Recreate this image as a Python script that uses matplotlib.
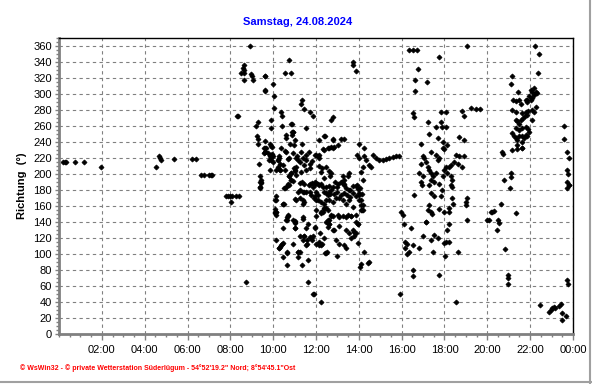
import numpy as np
import matplotlib.pyplot as plt
from matplotlib.lines import Line2D
from matplotlib.ticker import MultipleLocator

# Wind direction readings (hour of day, degrees)
night_h = [0.2, 0.3, 0.35, 0.75, 1.15, 1.95, 4.55, 4.65, 4.7, 4.75, 5.35, 6.2, 6.4,
           6.65, 6.75, 7.0, 7.1, 7.15, 7.8, 7.9, 8.0, 8.05, 8.1, 8.28, 8.4, 8.75]
night_d = [215, 215, 215, 215, 215, 209, 209, 222, 220, 218, 219, 219, 219,
           199, 199, 199, 199, 199, 172, 172, 172, 165, 172, 173, 172, 65]

morning_h = [8.91, 8.62, 8.6, 8.65, 8.48, 8.62, 8.63, 8.95, 9.0, 9.05, 9.61, 10.73, 10.55, 10.83,
             10.0, 9.61, 10.03, 11.34, 11.31, 10.03, 11.46, 11.7, 11.85, 8.3, 8.36, 10.38, 10.42,
             9.29, 9.21, 9.88, 9.88, 10.89, 10.41, 11.54, 12.7, 12.78, 10.89, 10.58, 10.58, 9.24,
             9.29, 12.41, 11.04, 10.8, 10.97, 9.61, 11.34, 9.85, 9.96, 12.78, 10.35, 10.53, 9.57,
             9.63, 9.57, 12.32, 12.6, 12.78, 11.66, 9.96, 9.91, 9.34, 10.27, 10.22, 10.3, 9.8, 9.85,
             10.68, 11.12, 11.15, 11.93, 12.08, 12.16, 11.7, 11.8, 11.46, 10.97, 11.03, 10.84, 10.76,
             10.84, 11.07, 11.31, 11.51, 11.74, 12.16, 12.27, 12.24, 12.47, 12.63, 12.7, 12.67,
             9.41, 9.41, 9.4, 11.35, 11.46, 11.65, 11.8, 11.93, 12.08, 12.39, 12.24, 12.47, 10.68, 10.5,
             9.6, 9.6, 10.84, 10.92, 10.89, 10.92, 12.39, 12.78, 13.17, 13.33, 12.16, 9.65, 9.6, 9.75,
             9.91, 10.58, 10.76, 10.92, 11.07, 11.31, 11.54, 12.0, 12.16, 12.39, 12.55, 12.7, 12.86,
             13.01, 9.83, 9.91, 9.98, 10.22, 10.3, 10.14, 10.76, 10.84, 11.0, 11.07, 11.23, 11.38,
             11.54, 9.37, 9.4, 9.44, 10.45, 10.53, 10.3, 10.22, 10.27, 9.29, 9.6, 9.6, 9.91, 9.83, 9.98]
morning_d = [360, 336, 333, 330, 326, 326, 318, 325, 322, 318, 322, 343, 326, 326,
             312, 304, 298, 292, 288, 282, 281, 277, 272, 273, 273, 277, 273,
             265, 260, 267, 258, 262, 260, 258, 268, 271, 252, 249, 245, 247,
             244, 247, 243, 237, 236, 241, 237, 237, 234, 243, 233, 229, 232,
             228, 226, 231, 232, 233, 227, 225, 221, 212, 222, 217, 212, 217, 205,
             219, 222, 217, 224, 222, 224, 213, 216, 211, 207, 204, 201, 198,
             193, 199, 203, 205, 207, 210, 207, 203, 209, 204, 201, 197,
             193, 189, 184, 190, 188, 186, 189, 188, 188, 195, 188, 184, 186, 182,
             322, 305, 263, 253, 249, 252, 247, 244, 244, 244, 243, 232, 228, 226,
             224, 227, 220, 226, 220, 227, 224, 224, 220, 230, 232, 234, 234,
             236, 224, 218, 222, 209, 205, 205, 197, 201, 205, 209, 215, 220,
             218, 197, 184, 190, 211, 205, 205, 218, 220, 238, 232, 227, 235, 222, 215]

midday_h = [9.37, 9.37, 10.53, 10.72, 10.92, 11.23, 11.7, 11.93, 12.63, 11.18, 11.42, 11.78, 12.0,
            12.08, 12.36, 12.67, 12.83, 10.11, 10.5, 11.04, 11.46, 11.38, 11.9, 12.0, 12.47, 10.07,
            10.1, 10.68, 10.61, 11.0, 11.38, 12.0, 12.24, 12.32, 12.39, 12.47, 12.7, 12.63, 12.83,
            10.45, 11.0, 11.54, 11.93, 12.19, 11.23, 11.43, 11.59, 11.74, 11.8, 10.14, 10.45, 10.37,
            10.27, 10.92, 11.59, 12.12, 12.27, 12.36, 10.65, 10.45, 11.18, 11.15, 11.62, 12.44, 12.52,
            10.64, 11.34, 11.62, 11.9, 12.22,
            12.9, 13.05, 13.2, 13.3, 13.0, 13.15, 13.3, 13.45, 13.6, 13.75, 13.9, 14.05, 14.15, 13.6,
            12.55, 12.63, 12.7, 12.78, 13.09, 13.4, 13.64, 13.09, 13.4, 13.56, 13.71, 13.79, 13.95,
            14.1, 14.18, 14.03, 11.46, 11.78, 11.85, 11.54, 11.38, 11.23, 12.0, 12.16, 12.24, 12.47,
            12.94, 13.09, 13.32, 13.4, 13.64, 13.79, 13.87, 12.97, 13.95, 14.26, 14.1, 14.06, 14.41,
            14.49, 11.88,
            10.14, 10.07, 10.14, 10.07, 10.14, 10.61, 10.68, 10.84, 10.45, 11.07, 11.23, 11.38, 11.23,
            11.38, 11.54, 11.7, 11.85, 12.0, 12.16, 12.32, 12.47, 12.55, 12.63, 12.7, 12.78, 12.97,
            13.17, 13.33, 13.4, 13.56, 13.71, 13.87, 14.03, 14.1, 14.15, 11.93, 12.08, 12.24, 12.39,
            12.63, 12.78, 12.94, 13.09, 13.25, 13.4, 12.0, 12.24, 12.39, 12.55, 12.78, 13.01, 13.25,
            13.48, 13.64, 13.87, 10.92, 11.0, 11.38, 11.62, 11.93, 12.47, 12.55, 12.63,
            10.11, 10.48, 10.64, 10.68, 10.64, 11.01, 11.03, 10.3, 10.42, 10.25, 10.64, 11.15]
midday_d = [190, 183, 182, 186, 191, 189, 188, 190, 185, 178, 177, 174, 177,
            174, 177, 175, 175, 167, 162, 169, 165, 163, 170, 167, 167, 156,
            151, 149, 143, 140, 146, 148, 151, 153, 156, 158, 148, 142, 130,
            132, 132, 133, 133, 126, 122, 122, 118, 121, 118, 118, 114, 111,
            107, 112, 112, 111, 112, 120, 102, 96, 102, 96, 93, 101, 103,
            86, 86, 65, 50, 40,
            190, 188, 190, 186, 178, 174, 176, 174, 180, 185, 186, 182, 175, 171,
            142, 138, 149, 130, 146, 146, 148, 135, 130, 126, 130, 128, 138,
            155, 161, 174, 122, 120, 122, 111, 118, 103, 113, 115, 111, 101,
            118, 113, 111, 107, 120, 122, 126, 97, 114, 103, 88, 84, 89,
            90, 50,
            172, 167, 153, 153, 149, 184, 188, 193, 163, 167, 170, 167, 180,
            177, 178, 178, 184, 189, 186, 184, 176, 174, 178, 180, 184, 184,
            190, 188, 182, 180, 176, 172, 167, 161, 155, 172, 167, 165, 163,
            167, 165, 170, 170, 167, 163, 155, 153, 157, 155, 147, 149, 147,
            149, 147, 140, 142, 139, 144, 138, 134, 140, 134, 138,
            152, 163, 146, 148, 143, 141, 132, 109, 112, 107, 101, 103]

afternoon_h = [13.71, 13.71, 13.87, 14.03, 14.26, 13.9, 14.03, 14.26, 14.34, 14.49, 14.57, 14.65,
               14.8, 14.96, 15.11, 15.27, 15.42, 15.61, 15.73, 15.86, 14.18, 14.1, 13.56, 13.48,
               13.33, 13.25, 14.18, 13.87, 13.95, 14.03, 14.1, 14.18, 13.56, 13.71, 13.87, 13.95,
               15.96, 16.04, 16.12, 16.43,
               16.32, 16.51, 16.71, 17.72, 19.07, 16.74, 16.62, 17.16, 16.62,
               16.51, 16.59, 17.21, 17.83, 18.09, 18.84, 18.92, 19.23, 19.46, 19.65, 17.83, 17.86,
               17.6, 18.09, 17.29, 17.68, 17.91, 18.69, 18.92, 16.9, 18.14, 17.99,
               16.98, 17.06, 17.13, 17.21, 17.29, 17.37, 17.44, 17.37, 17.6, 17.68, 17.75, 17.91,
               18.53, 18.69, 18.92, 18.45, 18.3, 18.22, 18.06, 17.99, 18.61, 18.84, 16.9, 16.82,
               16.98, 16.9, 16.94, 17.37, 17.52, 17.75, 17.29, 18.14, 18.3, 18.37, 18.3, 18.37,
               17.91, 17.6, 16.56, 17.37, 17.52, 17.87, 17.83, 18.37, 18.42, 18.22, 19.07, 19.02,
               19.0, 17.29, 17.21, 17.37, 17.41, 17.75, 17.99, 18.22, 17.13, 18.19, 19.07,
               16.17, 16.23, 16.17, 16.23, 16.32, 16.51, 16.79, 16.98, 17.13, 16.51, 16.51, 15.92,
               17.37, 17.52, 17.68, 17.47, 17.75, 17.99, 18.06, 18.19, 18.03, 18.61, 18.14, 18.56]
afternoon_d = [340, 336, 329, 238, 232, 224, 220, 222, 218, 211, 209, 224,
               220, 218, 218, 219, 220, 221, 222, 223, 209, 203, 201, 197,
               193, 197, 193, 185, 181, 176, 167, 155, 167, 159, 149, 138,
               153, 149, 138, 132,
               355, 355, 355, 346, 360, 331, 318, 315, 304,
               276, 271, 265, 278, 278, 279, 272, 282, 281, 281, 265, 259,
               259, 259, 250, 245, 240, 246, 243, 238, 236, 231,
               222, 220, 215, 209, 205, 201, 197, 228, 224, 218, 220, 232,
               224, 222, 222, 215, 211, 209, 209, 205, 213, 209, 213, 201,
               197, 190, 186, 193, 190, 188, 186, 201, 197, 193, 186, 184,
               197, 201, 174, 176, 172, 180, 172, 170, 163, 157, 170, 165,
               161, 161, 155, 153, 150, 156, 152, 152, 140, 138, 143,
               115, 113, 107, 100, 102, 111, 107, 122, 140, 80, 72, 50,
               118, 124, 120, 103, 74, 114, 115, 115, 97, 102, 130, 40]

evening_h = [20.0, 20.08, 20.16, 20.24, 20.32, 20.55, 20.52, 20.47, 20.63, 20.81, 21.36, 20.98,
             20.98, 20.97, 22.45, 22.88, 22.95, 23.03, 23.11, 23.18, 23.34, 23.42, 23.47, 23.5,
             23.65, 23.73, 23.78, 23.73, 23.81,
             20.7, 20.74, 21.09, 21.09, 21.06, 20.78, 21.17, 21.37, 21.64, 21.17, 21.11, 21.45,
             21.22, 21.33, 21.48, 21.56, 21.79, 21.87, 22.03, 22.1, 22.18, 22.26, 22.33, 22.18,
             21.95, 21.87, 22.03, 22.1, 21.17, 21.33, 21.64, 21.79, 21.91, 22.1, 22.29, 21.33,
             21.4, 21.48, 21.56, 21.67, 21.76, 21.87, 22.07, 22.18,
             21.33, 21.5, 21.64, 21.79, 21.91, 21.94, 21.17, 21.25, 21.33, 21.4, 21.48, 21.64,
             21.71, 21.79, 21.87, 21.64, 21.4, 21.64, 22.23, 22.41, 22.38,
             23.58, 23.58, 23.7, 23.8, 23.7, 23.75, 23.7, 23.8]
evening_d = [142, 142, 153, 153, 154, 139, 142, 130, 162, 106, 151, 74,
             70, 62, 36, 28, 30, 32, 34, 33, 35, 37, 26, 18,
             22, 68, 63, 183, 186,
             228, 225, 201, 196, 183, 193, 230, 231, 232, 322, 312, 302,
             293, 291, 292, 288, 292, 293, 305, 303, 299, 302, 301, 307,
             297, 290, 292, 295, 280, 278, 276, 278, 279, 280, 284, 268,
             266, 263, 268, 270, 272, 274, 267, 277,
             257, 255, 257, 259, 256, 253, 251, 248, 245, 243, 248, 247,
             245, 249, 248, 240, 236, 232, 360, 350, 326,
             260, 244, 228, 220, 205, 200, 190, 186]

hour_ticks = list(range(2, 25, 2))
hour_labels = ["%02d:00" % (h % 24) for h in hour_ticks]

hours = np.array(night_h + morning_h + midday_h + afternoon_h + evening_h)
direction = np.array(night_d + morning_d + midday_d + afternoon_d + evening_d)

plt.rcParams['font.family'] = ['Liberation Sans', 'DejaVu Sans']

fig = plt.figure(figsize=(5.92, 3.84), dpi=100)
ax = fig.add_axes([59/592, 1 - 334/384, (573 - 59)/592, (334 - 38)/384])

ax.plot(hours, direction, linestyle='none', marker='D', markersize=2.6,
        color='black', markeredgewidth=0.5)

ax.set_xlim(0, 24)
ax.set_ylim(0, 370)
ax.set_xticks(hour_ticks)
ax.set_xticklabels(hour_labels, fontsize=8)
ax.xaxis.set_minor_locator(MultipleLocator(0.5))
ax.set_yticks(range(0, 361, 20))
ax.yaxis.set_minor_locator(MultipleLocator(5))
ax.tick_params(axis='y', labelsize=8, length=3, width=1, color='#808080', pad=2)
ax.tick_params(axis='x', length=4, width=1, color='#808080', pad=4)
ax.tick_params(which='minor', length=2, width=1, color='#808080')

# Grid lines
ax.grid(True, which='major', linestyle=(0, (3, 3)), linewidth=0.8, color='#808080')

for s in ['left', 'bottom']:
    ax.spines[s].set_color('#808080')
    ax.spines[s].set_linewidth(2)
for s in ['top', 'right']:
    ax.spines[s].set_color('black')
    ax.spines[s].set_linewidth(1)

ax.set_ylabel("Richtung  (°)", fontsize=8, fontweight='bold')
ax.yaxis.set_label_coords((27 - 59)/514, 0.5)

fig.text(298/592, 1 - 22/384, "Samstag, 24.08.2024", color='#0000ff',
         fontsize=8, fontweight='bold', ha='center', va='center')
fig.text(20/592, 1 - 368/384,
         "© WsWin32 - © private Wetterstation Süderlügum - 54°52'19.2\" Nord; 8°54'45.1\"Ost",
         color='red', fontsize=5.0, fontweight='bold', ha='left', va='center')

# Window border on right and bottom
fig.add_artist(Line2D([590/592, 590/592], [0, 1], color='#a0a0a0', linewidth=1.5))
fig.add_artist(Line2D([0, 1], [1 - 382/384, 1 - 382/384], color='#a0a0a0', linewidth=1.5))

fig.savefig("out.png", dpi=100)
